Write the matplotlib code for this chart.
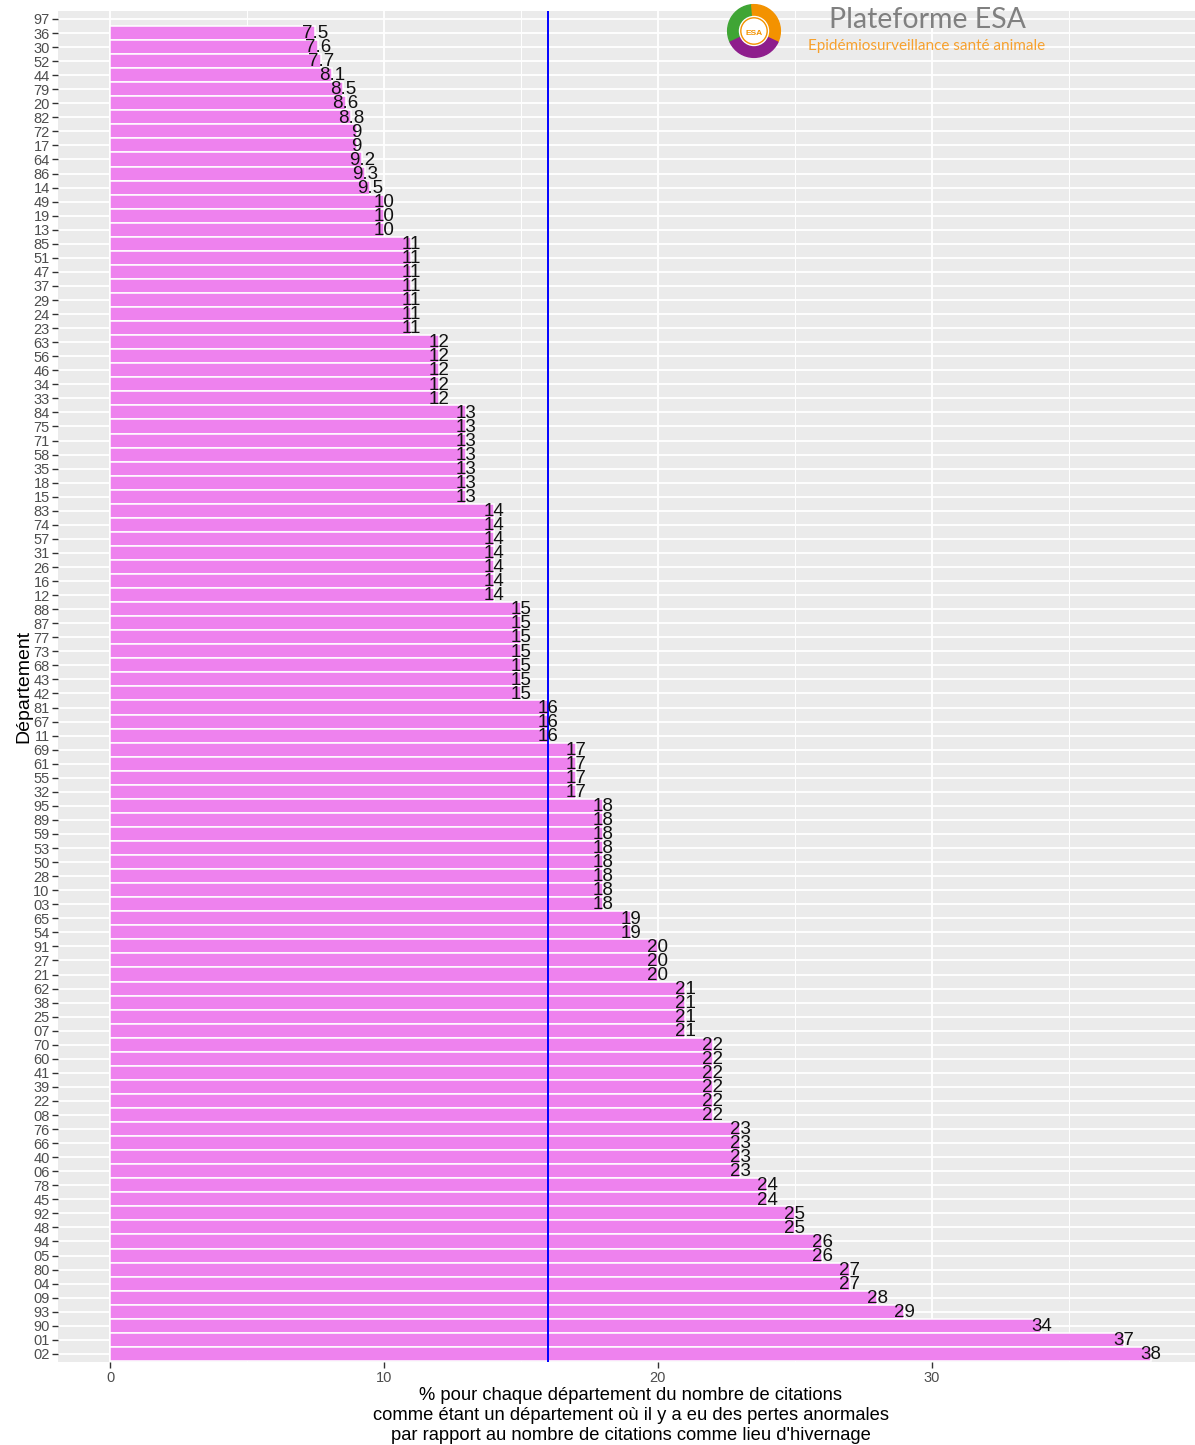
import matplotlib.pyplot as plt
import numpy as np
from matplotlib.patches import Wedge, Circle

# départements, du haut vers le bas du graphique
departements = [
    "97", "36", "30", "52", "44", "79", "20", "82", "72", "17", "64", "86",
    "14", "49", "19", "13", "85", "51", "47", "37", "29", "24", "23", "63",
    "56", "46", "34", "33", "84", "75", "71", "58", "35", "18", "15", "83",
    "74", "57", "31", "26", "16", "12", "88", "87", "77", "73", "68", "43",
    "42", "81", "67", "11", "69", "61", "55", "32", "95", "89", "59", "53",
    "50", "28", "10", "03", "65", "54", "91", "27", "21", "62", "38", "25",
    "07", "70", "60", "41", "39", "22", "08", "76", "66", "40", "06", "78",
    "45", "92", "48", "94", "05", "80", "04", "09", "93", "90", "01", "02",
]
pourcentages = [
    np.nan, 7.5, 7.6, 7.7, 8.1, 8.5, 8.6, 8.8, 9, 9, 9.2, 9.3,
    9.5, 10, 10, 10, 11, 11, 11, 11, 11, 11, 11, 12,
    12, 12, 12, 12, 13, 13, 13, 13, 13, 13, 13, 14,
    14, 14, 14, 14, 14, 14, 15, 15, 15, 15, 15, 15,
    15, 16, 16, 16, 17, 17, 17, 17, 18, 18, 18, 18,
    18, 18, 18, 18, 19, 19, 20, 20, 20, 21, 21, 21,
    21, 22, 22, 22, 22, 22, 22, 23, 23, 23, 23, 24,
    24, 25, 25, 26, 26, 27, 27, 28, 29, 34, 37, 38,
]
moyenne = 16

plt.rcParams["font.family"] = ["Liberation Sans", "DejaVu Sans"]

fig = plt.figure(figsize=(11.95, 14.45), dpi=100)
W, H = 1195, 1445
ax = fig.add_axes([58 / W, 0.0572, (1203 - 58) / W, 0.9927 - 0.0572])
ax.set_facecolor("#EBEBEB")

pos = np.arange(len(departements))
vals = np.array(pourcentages, dtype=float)
ok = ~np.isnan(vals)
ax.barh(pos[ok], vals[ok], height=1.0, color="violet", edgecolor="white",
        linewidth=1.1, zorder=2)
for p, v in zip(pos[ok], vals[ok]):
    ax.text(v, p + 0.05, f"{v:g}", ha="center", va="center", fontsize=13.5,
            color="#111111", zorder=4)

ax.axvline(moyenne, color="blue", lw=1.4, zorder=3)

ax.set_xlim(-1.9, 39.9)
ax.set_ylim(len(departements) - 0.4, -0.6)
ax.set_yticks(pos)
ax.set_yticklabels(departements)
ax.set_xticks([0, 10, 20, 30])
ax.set_xticks([5, 15, 25, 35], minor=True)
ax.grid(which="major", color="white", lw=1.3, zorder=0)
ax.grid(which="minor", axis="x", color="white", lw=0.7, zorder=0)
ax.set_axisbelow(True)
for s in ax.spines.values():
    s.set_visible(False)
ax.tick_params(axis="both", which="major", color="#333333", length=4,
               width=1, labelsize=10.5, labelcolor="#4D4D4D", pad=2)
ax.tick_params(axis="x", which="minor", length=0)

ax.set_ylabel("Département", fontsize=14, labelpad=1)
ax.set_xlabel("% pour chaque département du nombre de citations\n"
              "comme étant un département où il y a eu des pertes anormales\n"
              "par rapport au nombre de citations comme lieu d'hivernage",
              fontsize=13.2, linespacing=1.2, labelpad=2)

# logo de la plateforme
lax = fig.add_axes([724 / W, 1 - 60 / H, 60 / W, 58 / H])
lax.set_xlim(-1.1, 1.1)
lax.set_ylim(-1.1, 1.1)
lax.set_aspect("equal")
lax.axis("off")
lax.add_patch(Wedge((0, 0), 1.0, 95, 205, width=0.45, color="#3FA535"))
lax.add_patch(Wedge((0, 0), 1.0, -25, 95, width=0.45, color="#F39200"))
lax.add_patch(Wedge((0, 0), 1.0, 205, 335, width=0.45, color="#8E1E8C"))
lax.add_patch(Circle((0, 0), 0.55, color="white"))
lax.add_patch(Circle((0, 0), 0.5, fill=False, ec="#F39200", lw=1))
lax.text(0, -0.08, "ESA", ha="center", va="center", fontsize=6,
         color="#F39200", fontweight="bold")

fig.text(927 / W, 1 - 20 / H, "Plateforme ESA", ha="center", va="center",
         fontsize=20.5, color="#808080", family=["Lato", "DejaVu Sans"])
fig.text(927 / W, 1 - 46 / H, "Epidémiosurveillance santé animale",
         ha="center", va="center", fontsize=11, color="#F7A12E",
         family=["Lato", "DejaVu Sans"])

fig.savefig("out.png", dpi=100)
